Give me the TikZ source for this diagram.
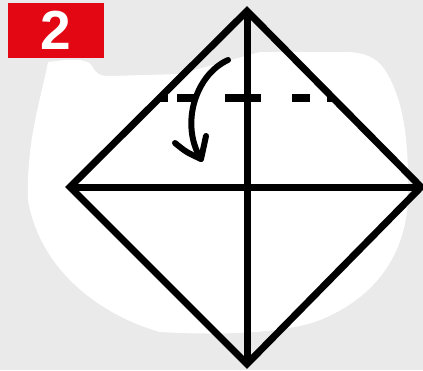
\documentclass[tikz,border=0pt]{standalone}
\usepackage{fontspec}
\setmainfont{Liberation Sans}
\definecolor{paper}{RGB}{234,234,234}
\definecolor{stepred}{RGB}{227,6,19}
\tikzset{
  fold/.style={line width=7pt, line join=miter, black},
  dashcrease/.style={line width=7.5pt, black, line cap=butt},
  arrowline/.style={line width=6pt, black, line cap=round, line join=round},
}
\begin{document}
\begin{tikzpicture}[x=1pt,y=-1pt]
\useasboundingbox (0,0) rectangle (423,370);
\fill[paper] (0,0) rectangle (423,370);
% white cat-head background blob
\fill[white] (48,62) .. controls (70,59) and (88,58) .. (92,66)
  .. controls (96,74) and (100,76) .. (110,76) -- (180,74) -- (260,52) -- (345,52)
  .. controls (375,52) and (385,65) .. (395,90)
  .. controls (405,115) and (409,150) .. (408,200)
  .. controls (405,260) and (370,300) .. (320,320)
  .. controls (290,332) and (230,336) .. (160,332)
  .. controls (100,315) and (40,270) .. (28,200)
  .. controls (26,140) and (42,95) .. (48,62) -- cycle;
% step number badge
\node[fill=stepred, minimum width=96pt, minimum height=55pt, inner sep=0pt,
      anchor=north west] (badge) at (8,3) {};
\node[text=white, font=\bfseries\fontsize{55}{55}\selectfont, inner sep=0pt]
  (num) at (badge.center) {2};
% diamond
\coordinate (T) at (247,11);
\coordinate (L) at (70,187);
\coordinate (R) at (421,187);
\coordinate (B) at (247,364);
\draw[fold] (T) -- (R) -- (B) -- (L) -- cycle;
\draw[fold] (L) -- (R);
\draw[fold] (T) -- (B);
% dashed crease
\coordinate (d1a) at (160,98); \coordinate (d1b) at (168,98);
\coordinate (d2a) at (177,98); \coordinate (d2b) at (195,98);
\coordinate (d3a) at (225,98); \coordinate (d3b) at (261,98);
\coordinate (d4a) at (292,98); \coordinate (d4b) at (310,98);
\coordinate (d5a) at (327,98); \coordinate (d5b) at (334,98);
\draw[dashcrease] (d1a) -- (d1b) (d2a) -- (d2b) (d3a) -- (d3b) (d4a) -- (d4b) (d5a) -- (d5b);
% fold arrow
\coordinate (a0) at (228,60);
\coordinate (a1) at (201,159);
\coordinate (bl) at (175,143);
\coordinate (br) at (206,136);
\draw[arrowline] (a0) .. controls (195,75) and (180,125) .. (a1);
\draw[arrowline] (bl) .. controls (186,152) .. (a1) .. controls (203,150) .. (br);
\end{tikzpicture}
\end{document}
